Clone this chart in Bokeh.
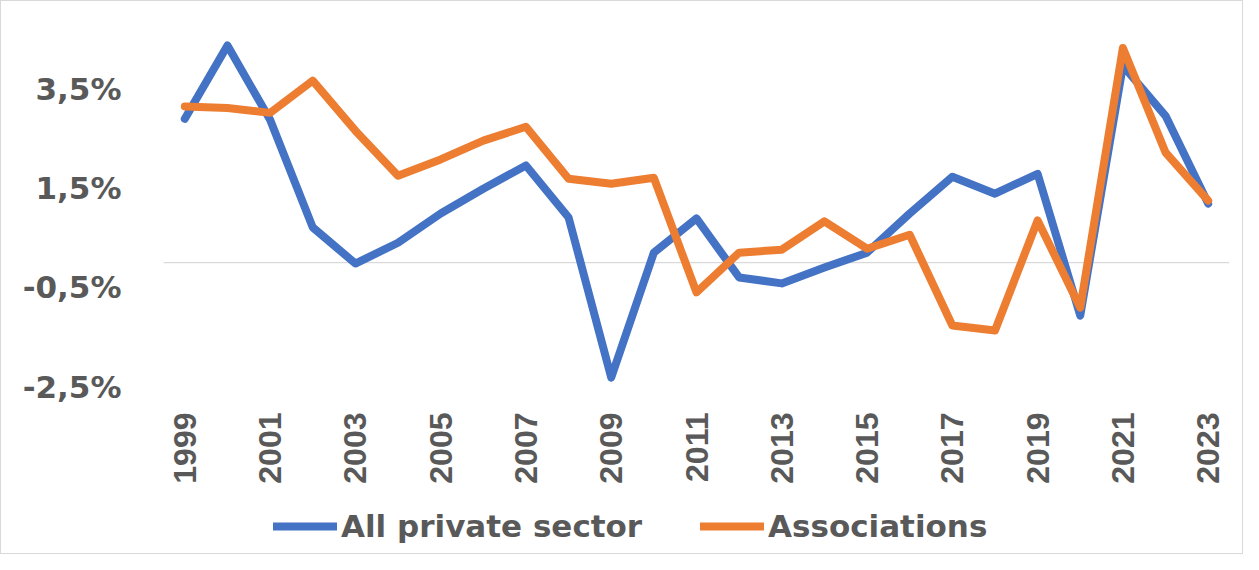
import math
from bokeh.plotting import figure
from bokeh.models import Span, Legend, LegendItem, FixedTicker, Range1d
from bokeh.embed import file_html
from bokeh.resources import INLINE

years = list(range(1999, 2024))
all_private = [2.90, 4.38, 2.88, 0.71, -0.02, 0.40, 0.99, 1.49, 1.96, 0.91,
               -2.32, 0.20, 0.89, -0.30, -0.42, -0.10, 0.20, 0.99, 1.73, 1.39,
               1.79, -1.07, 3.97, 2.96, 1.19]
associations = [3.15, 3.12, 3.02, 3.67, 2.66, 1.75, 2.08, 2.46, 2.74, 1.69,
                1.59, 1.71, -0.60, 0.20, 0.26, 0.83, 0.28, 0.56, -1.27, -1.37,
                0.85, -0.91, 4.33, 2.22, 1.25]
x_ticks = years[::2]
y_ticks = [-2.5, -0.5, 1.5, 3.5]
y_tick_labels = ["-2,5%", "-0,5%", "1,5%", "3,5%"]
series_names = ["All private sector", "Associations"]
colors = ["#4472C4", "#ED7D31"]

GRAY = "#595959"

# value axis spans -2.5 .. 4.5 over 347 px; the frame continues below it
# to hold the category labels and legend (frame height 516 px)
Y_TOP = 4.5
Y_MIN_AXIS = -2.5
PX_PER_UNIT = 347 / (Y_TOP - Y_MIN_AXIS)
FRAME_H = 516
y_start = Y_TOP - FRAME_H / PX_PER_UNIT

p = figure(width=1243, height=554, output_backend="svg", toolbar_location=None,
           x_range=Range1d(1998.5, 2023.5), y_range=Range1d(y_start, Y_TOP),
           min_border_left=162, min_border_right=15, min_border_top=38,
           min_border_bottom=0)
p.styles = {"border": "1px solid #D9D9D9"}
p.outline_line_color = None
p.xgrid.visible = False
p.ygrid.visible = False
p.background_fill_color = "white"
p.border_fill_color = "white"

zero = Span(location=0, dimension="width", line_color="#D9D9D9", line_width=1.3,
            level="underlay")
p.add_layout(zero)

r1 = p.line(years, all_private, line_color=colors[0], line_width=8,
            line_join="round", line_cap="round")
r2 = p.line(years, associations, line_color=colors[1], line_width=8,
            line_join="round", line_cap="round")

# y axis
p.yaxis.ticker = FixedTicker(ticks=y_ticks)
p.yaxis.major_label_overrides = {t: l for t, l in zip(y_ticks, y_tick_labels)}
p.yaxis.axis_line_color = None
p.yaxis.major_tick_line_color = None
p.yaxis.minor_tick_line_color = None
p.yaxis.major_tick_out = 0
p.yaxis.major_label_standoff = 42
p.yaxis.major_label_text_font = "DejaVu Sans"
p.yaxis.major_label_text_font_style = "bold"
p.yaxis.major_label_text_font_size = "31px"
p.yaxis.major_label_text_color = GRAY

# x axis (category labels sit just under the value axis minimum)
p.xaxis.fixed_location = Y_MIN_AXIS
p.xaxis.ticker = FixedTicker(ticks=x_ticks)
p.xaxis.major_label_overrides = {y: str(y) for y in x_ticks}
p.xaxis.axis_line_color = None
p.xaxis.major_tick_line_color = None
p.xaxis.minor_tick_line_color = None
p.xaxis.major_tick_out = 0
p.xaxis.major_label_orientation = math.pi / 2
p.xaxis.major_label_standoff = 26
p.xaxis.major_label_text_font = "Liberation Sans"
p.xaxis.major_label_text_font_style = "bold"
p.xaxis.major_label_text_font_size = "32px"
p.xaxis.major_label_text_color = GRAY

legend = Legend(items=[LegendItem(label=series_names[0], renderers=[r1]),
                       LegendItem(label=series_names[1], renderers=[r2])],
                orientation="horizontal", location=(110, 11),
                glyph_width=64, glyph_height=30, label_height=30,
                label_width=311, label_standoff=4, spacing=48,
                padding=0, margin=0,
                border_line_color=None, background_fill_alpha=0,
                label_text_font="DejaVu Sans", label_text_font_style="bold",
                label_text_font_size="31px", label_text_color=GRAY)
p.add_layout(legend, "center")

open("out.html", "w").write(file_html(p, INLINE))
